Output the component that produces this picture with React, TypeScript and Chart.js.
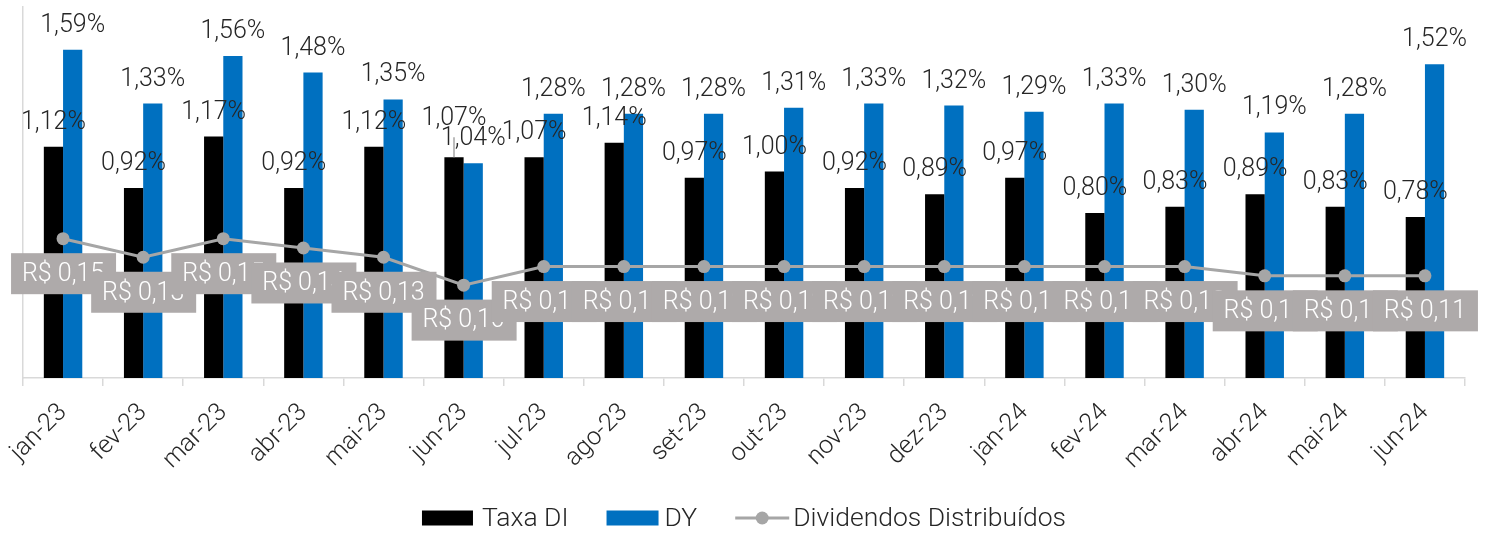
import React, { useEffect, useRef } from 'react';
import { Chart, registerables } from 'chart.js';

Chart.register(...registerables);

const categories = ['jan-23', 'fev-23', 'mar-23', 'abr-23', 'mai-23', 'jun-23', 'jul-23', 'ago-23', 'set-23', 'out-23', 'nov-23', 'dez-23', 'jan-24', 'fev-24', 'mar-24', 'abr-24', 'mai-24', 'jun-24'];
const taxaDI = [1.12, 0.92, 1.17, 0.92, 1.12, 1.07, 1.07, 1.14, 0.97, 1.0, 0.92, 0.89, 0.97, 0.8, 0.83, 0.89, 0.83, 0.78];
const dy = [1.59, 1.33, 1.56, 1.48, 1.35, 1.04, 1.28, 1.28, 1.28, 1.31, 1.33, 1.32, 1.29, 1.33, 1.3, 1.19, 1.28, 1.52];
const dividendos = [0.15, 0.13, 0.15, 0.14, 0.13, 0.1, 0.12, 0.12, 0.12, 0.12, 0.12, 0.12, 0.12, 0.12, 0.12, 0.11, 0.11, 0.11];
const seriesNames = ['Taxa DI', 'DY', 'Dividendos Distribuídos'];
const barAxisMax = 1.8;
const lineAxisMax = 0.4;
// Taxa DI label of jun-23 was lifted in the original (with a leader line)
const movedLabelIndex = 5;

const COLORS = { di: '#000000', dy: '#0070C0', line: '#A6A6A6', box: '#AEAAAA', text: '#262626', axis: '#D9D9D9' };
const FONT = 'Roboto';

const fmtPct = (v: number) => v.toFixed(2).replace('.', ',') + '%';
const fmtMoney = (v: number) => 'R$ ' + v.toFixed(2).replace('.', ',');

const labelsPlugin = {
  id: 'customLabels',
  afterDatasetsDraw(chart: any) {
    const ctx = chart.ctx;
    ctx.save();
    // line labels (grey boxes below each point)
    const lineMeta = chart.getDatasetMeta(2);
    ctx.font = `300 25px ${FONT}`;
    ctx.textAlign = 'center';
    ctx.textBaseline = 'middle';
    lineMeta.data.forEach((pt: any, i: number) => {
      const cx = pt.x;
      const cy = pt.y + 35;
      ctx.fillStyle = COLORS.box;
      ctx.fillRect(cx - 52, cy - 20.5, 105, 41);
      ctx.fillStyle = '#FFFFFF';
      ctx.fillText(fmtMoney(dividendos[i]), cx, cy + 1);
    });
    // bar labels
    ctx.textBaseline = 'alphabetic';
    [0, 1].forEach((di) => {
      const meta = chart.getDatasetMeta(di);
      const vals = di === 0 ? taxaDI : dy;
      meta.data.forEach((bar: any, i: number) => {
        let off = 18;
        if (di === 0 && i === movedLabelIndex) {
          off = 32;
          ctx.strokeStyle = COLORS.line;
          ctx.lineWidth = 1.5;
          ctx.beginPath();
          ctx.moveTo(bar.x, bar.y);
          ctx.lineTo(bar.x, bar.y - 20);
          ctx.stroke();
        }
        ctx.fillStyle = COLORS.text;
        ctx.fillText(fmtPct(vals[i]), bar.x, bar.y - off);
      });
    });
    ctx.restore();
  },
};

const legendPlugin = {
  id: 'customLegend',
  afterDraw(chart: any) {
    const ctx = chart.ctx;
    ctx.save();
    ctx.font = `300 26.5px ${FONT}`;
    const boxW = [51, 52, 54];
    const gap = [9, 6, 4];
    const itemGap = 38;
    const widths = seriesNames.map((n, i) => boxW[i] + gap[i] + ctx.measureText(n).width);
    const total = widths.reduce((a, b) => a + b, 0) + itemGap * (seriesNames.length - 1);
    let x = (chart.width - total) / 2;
    const y = 518;
    seriesNames.forEach((name, i) => {
      if (i < 2) {
        ctx.fillStyle = i === 0 ? COLORS.di : COLORS.dy;
        ctx.fillRect(x, y - 7.5, boxW[i], 15);
      } else {
        ctx.strokeStyle = COLORS.line;
        ctx.lineWidth = 3;
        ctx.beginPath();
        ctx.moveTo(x, y);
        ctx.lineTo(x + boxW[i], y);
        ctx.stroke();
        ctx.fillStyle = COLORS.line;
        ctx.beginPath();
        ctx.arc(x + boxW[i] / 2, y, 6.5, 0, Math.PI * 2);
        ctx.fill();
      }
      ctx.fillStyle = COLORS.text;
      ctx.textAlign = 'left';
      ctx.textBaseline = 'middle';
      ctx.fillText(name, x + boxW[i] + gap[i], y + 1);
      x += widths[i] + itemGap;
    });
    ctx.restore();
  },
};

export default function App() {
  const ref = useRef<HTMLCanvasElement | null>(null);
  useEffect(() => {
    document.body.style.margin = '0';
    const canvas = ref.current!;
    const chart = new Chart(canvas, {
      type: 'bar',
      data: {
        labels: categories,
        datasets: [
          {
            type: 'bar',
            label: seriesNames[0],
            data: taxaDI,
            backgroundColor: COLORS.di,
            yAxisID: 'y',
            order: 2,
            barPercentage: 1,
            categoryPercentage: 0.48,
          },
          {
            type: 'bar',
            label: seriesNames[1],
            data: dy,
            backgroundColor: COLORS.dy,
            yAxisID: 'y',
            order: 2,
            barPercentage: 1,
            categoryPercentage: 0.48,
          },
          {
            type: 'line',
            label: seriesNames[2],
            data: dividendos,
            borderColor: COLORS.line,
            backgroundColor: COLORS.line,
            borderWidth: 3,
            pointRadius: 6.5,
            pointBorderWidth: 0,
            pointBackgroundColor: COLORS.line,
            tension: 0,
            yAxisID: 'y2',
            order: 0,
          } as any,
        ],
      },
      options: {
        animation: false,
        responsive: false,
        devicePixelRatio: 1,
        layout: { padding: { left: 23, right: 23, top: 5, bottom: 58 } },
        plugins: { legend: { display: false }, tooltip: { enabled: false } },
        scales: {
          x: {
            grid: { offset: true, drawOnChartArea: false, drawTicks: true, tickLength: 8, color: COLORS.axis, lineWidth: 1.5 },
            border: { display: true, color: COLORS.axis, width: 1.5 },
            ticks: {
              minRotation: 45,
              maxRotation: 45,
              autoSkip: false,
              padding: 12,
              color: '#262626',
              font: { family: FONT, size: 25, weight: 300 as any },
            },
            afterFit(s: any) {
              s.height = 100;
              s.paddingLeft = 0;
              s.paddingRight = 0;
            },
          },
          y: {
            min: 0,
            max: barAxisMax,
            ticks: { display: false },
            grid: { display: false, drawTicks: false },
            border: { display: true, color: COLORS.axis, width: 1.5 },
            afterFit(s: any) {
              s.width = 0;
              s.paddingTop = 0;
              s.paddingBottom = 0;
            },
          },
          y2: {
            display: false,
            position: 'right',
            min: 0,
            max: lineAxisMax,
          },
        },
      },
      plugins: [labelsPlugin, legendPlugin],
    });
    return () => chart.destroy();
  }, []);
  return <canvas ref={ref} width={1488} height={536} style={{ display: 'block' }} />;
}
